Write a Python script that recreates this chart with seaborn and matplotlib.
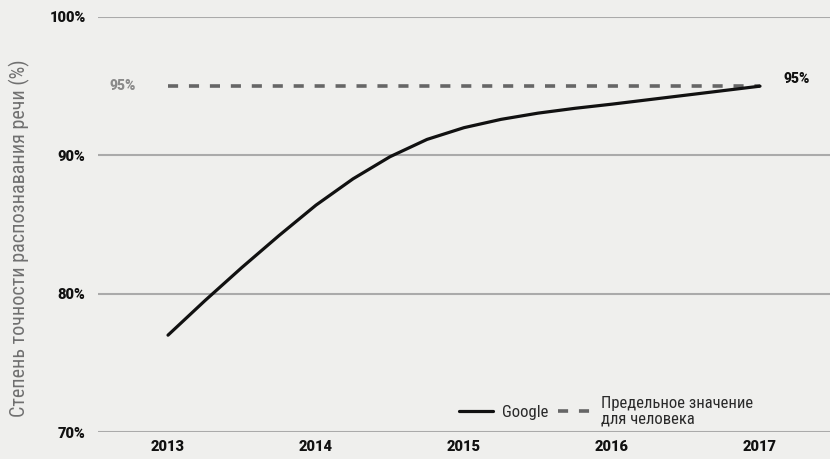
import matplotlib
matplotlib.use("Agg")
import matplotlib.pyplot as plt
import seaborn as sns
import pandas as pd

# Google speech-recognition accuracy (%)
google_years = [2013, 2013.25, 2013.5, 2013.75, 2014, 2014.25, 2014.5, 2014.75,
                2015, 2015.25, 2015.5, 2015.75, 2016, 2016.5, 2017]
google_acc = [77.0, 79.5, 81.9, 84.2, 86.4, 88.3, 89.9, 91.15,
              92.0, 92.6, 93.05, 93.4, 93.7, 94.35, 95.0]

# Human-level threshold
human_years = [2013, 2017]
human_acc = [95, 95]

year_ticks = [2013, 2014, 2015, 2016, 2017]
pct_ticks = [70, 80, 90, 100]
pct_labels = ["70%", "80%", "90%", "100%"]

series_google = "Google"
series_human = "Предельное значение\nдля человека"
ylabel = "Степень точности распознавания речи (%)"

sns.set_theme(style="white")
plt.rcParams["font.family"] = ["Roboto Condensed", "DejaVu Sans"]

heavy = ["Roboto", "DejaVu Sans"]
narrow = ["Roboto Condensed", "DejaVu Sans"]

bg = "#efefed"
fig = plt.figure(figsize=(8.3, 4.59), dpi=100, facecolor=bg)
ax = fig.add_axes([98 / 830, 27 / 459, 1 - 98 / 830, 415 / 459])
ax.set_facecolor(bg)

df_g = pd.DataFrame({"year": google_years, "acc": google_acc})
df_h = pd.DataFrame({"year": human_years, "acc": human_acc})

sns.lineplot(data=df_g, x="year", y="acc", ax=ax, color="#111111",
             linewidth=2.3, label=series_google, zorder=4)
sns.lineplot(data=df_h, x="year", y="acc", ax=ax, color="#666666",
             linewidth=2.6, linestyle=(0, (2.8, 3.0)), label=series_human, zorder=3)

ax.set_xlim(2013 - 70 / 148, 2017 + 70 / 148)
ax.set_ylim(70, 100)
ax.set_xticks(year_ticks)
ax.set_xticklabels([str(y) for y in year_ticks])
ax.set_yticks(pct_ticks)
ax.set_yticklabels(pct_labels)

for lab in ax.get_xticklabels() + ax.get_yticklabels():
    lab.set_fontfamily(heavy)
    lab.set_fontweight(900)
    lab.set_fontsize(10.5)
    lab.set_color("#111111")
ax.tick_params(axis="y", length=0, pad=9)
ax.tick_params(axis="x", length=0, pad=6)

ax.grid(axis="y", color="#aaaaaa", linewidth=1.5)
ax.grid(axis="x", visible=False)
for s in ax.spines.values():
    s.set_visible(False)
ax.set_axisbelow(True)
ax.set_xlabel("")
ax.set_ylabel("")

fig.text(19 / 830, 1 - 238 / 459, ylabel, rotation=90, ha="center", va="center",
         fontsize=14.5, color="#707070", family=narrow)

# Value labels at both ends of the human threshold line
ax.annotate(f"{human_acc[0]}%", (human_years[0], human_acc[0]), xytext=(-58, 0),
            textcoords="offset pixels", ha="left", va="center",
            fontfamily=heavy, fontweight=900, fontsize=10, color="#8a8a8a")
ax.annotate(f"{google_acc[-1]:.0f}%", (google_years[-1], google_acc[-1]), xytext=(23, 7),
            textcoords="offset pixels", ha="left", va="center",
            fontfamily=heavy, fontweight=900, fontsize=10, color="#111111")

leg = ax.legend(loc="center", bbox_to_anchor=(0.694, 0.05), ncol=2, frameon=False,
                prop={"family": narrow, "size": 12}, handlelength=2.0,
                columnspacing=0.6, handletextpad=0.55, borderpad=0.0)
for t in leg.get_texts():
    t.set_color("#2a2a2a")
    t.set_linespacing(1.05)

fig.savefig("out.png", dpi=100, facecolor=bg)
